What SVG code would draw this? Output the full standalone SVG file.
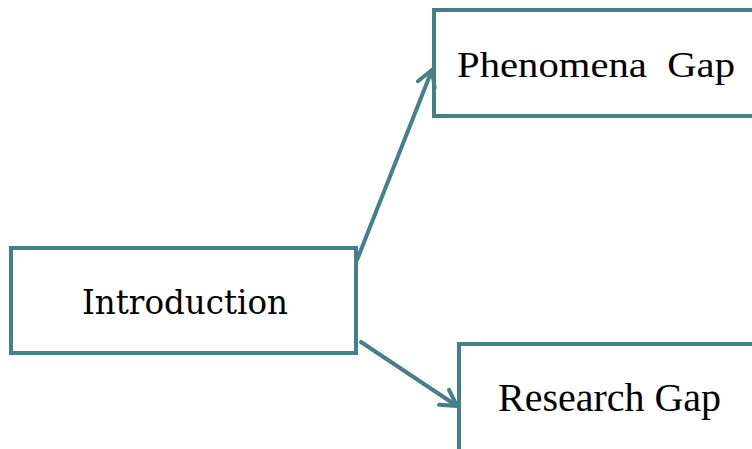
<svg xmlns="http://www.w3.org/2000/svg" width="752" height="449" viewBox="0 0 752 449">
<style>
.box{fill:#ffffff;stroke:#44808a;stroke-width:4}
.conn{stroke:#44808a;stroke-width:4;fill:none;stroke-linecap:round}
.t{fill:#000000;font-family:"Liberation Serif","Times New Roman",serif}
.g{fill:#000000;font-family:"DejaVu Serif",Georgia,serif}
</style>
<defs>
<marker id="arr" markerUnits="userSpaceOnUse" markerWidth="30" markerHeight="30" refX="20" refY="15" orient="auto" overflow="visible">
<path d="M4.4,6 L20,15 L4.4,24" fill="none" stroke="#44808a" stroke-width="4" stroke-linecap="round" stroke-linejoin="round"/>
</marker>
</defs>
<rect width="752" height="449" fill="#ffffff"/>
<g id="node-introduction">
<rect class="box" x="11" y="248" width="345" height="105"/>
<text class="g" x="82" y="314" font-size="34" textLength="206" lengthAdjust="spacingAndGlyphs">Introduction</text>
</g>
<g id="node-phenomena">
<rect class="box" x="434" y="10" width="330" height="106"/>
<text class="t" x="457" y="77" font-size="36" xml:space="preserve" textLength="278" lengthAdjust="spacingAndGlyphs">Phenomena  Gap</text>
</g>
<g id="node-research">
<rect class="box" x="459" y="344" width="310" height="120"/>
<text class="t" x="498" y="411" font-size="40" textLength="223" lengthAdjust="spacingAndGlyphs">Research Gap</text>
</g>
<g id="connectors">
<line class="conn" x1="357" y1="260" x2="432" y2="70" marker-end="url(#arr)"/>
<line class="conn" x1="361" y1="342" x2="457" y2="406" marker-end="url(#arr)"/>
</g>
</svg>
